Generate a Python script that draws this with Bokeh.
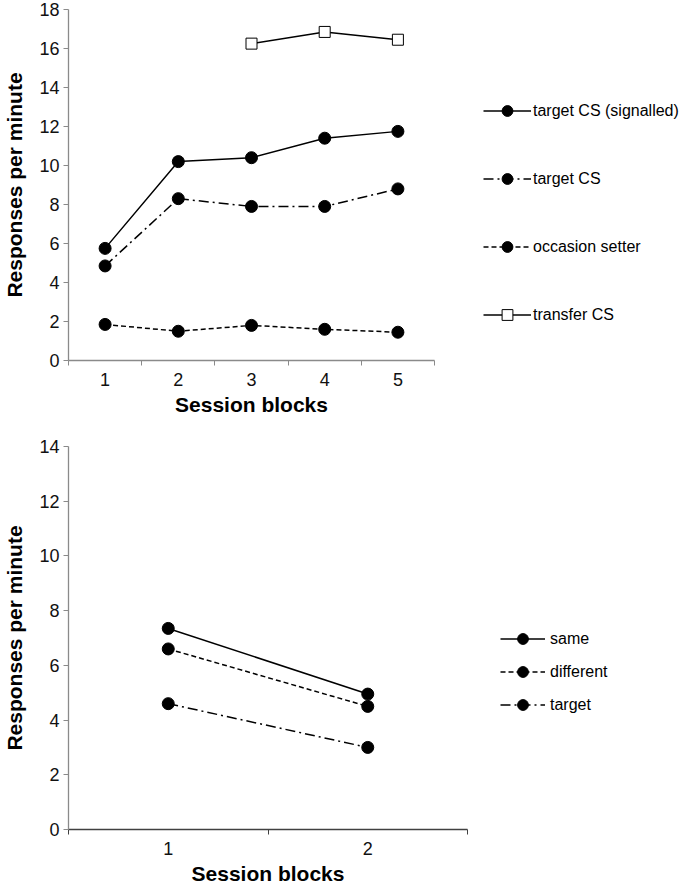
import math
from bokeh.plotting import figure
from bokeh.models import Legend, LegendItem, FixedTicker, Range1d
from bokeh.layouts import column
from bokeh.embed import file_html
from bokeh.resources import INLINE

# ---------------- data ----------------
top_blocks = [1, 2, 3, 4, 5]
target_cs_signalled = [5.75, 10.2, 10.4, 11.4, 11.75]
target_cs = [4.85, 8.3, 7.9, 7.9, 8.8]
occasion_setter = [1.85, 1.5, 1.8, 1.6, 1.45]
transfer_cs = [math.nan, math.nan, 16.25, 16.85, 16.45]
top_y_ticks = [0, 2, 4, 6, 8, 10, 12, 14, 16, 18]

bottom_blocks = [1, 2]
same = [7.35, 4.95]
different = [6.6, 4.5]
target = [4.6, 3.0]
bottom_y_ticks = [0, 2, 4, 6, 8, 10, 12, 14]

x_label = "Session blocks"
y_label = "Responses per minute"

FONT = "Liberation Sans"
GRAY = "#8a8a8a"


def style_axes(p, blocks, yticks, xaxis_color):
    p.xgrid.visible = False
    p.ygrid.visible = False
    p.outline_line_color = None
    p.background_fill_color = "white"
    p.border_fill_color = "white"
    bounds = [b - 0.5 for b in blocks] + [blocks[-1] + 0.5]
    xa = p.xaxis[0]
    xa.ticker = FixedTicker(ticks=blocks, minor_ticks=bounds)
    xa.major_tick_line_color = None
    xa.major_tick_out = 5
    xa.major_tick_in = 0
    xa.minor_tick_line_color = xaxis_color
    xa.minor_tick_out = 5
    xa.minor_tick_in = 0
    xa.axis_line_color = xaxis_color
    xa.axis_line_width = 1.3
    xa.major_label_text_font = FONT
    xa.major_label_text_font_size = "18px"
    xa.major_label_text_color = "#111111"
    xa.major_label_standoff = 7
    xa.axis_label = x_label
    xa.axis_label_text_font = FONT
    xa.axis_label_text_font_size = "21px"
    xa.axis_label_text_font_style = "bold"
    xa.axis_label_text_color = "black"
    xa.axis_label_standoff = 4
    ya = p.yaxis[0]
    ya.ticker = FixedTicker(ticks=yticks)
    ya.axis_line_color = GRAY
    ya.axis_line_width = 1.3
    ya.major_tick_line_color = GRAY
    ya.major_tick_out = 5
    ya.major_tick_in = 0
    ya.minor_tick_line_color = None
    ya.major_label_text_font = FONT
    ya.major_label_text_font_size = "18px"
    ya.major_label_text_color = "#111111"
    ya.major_label_standoff = 4
    ya.axis_label = y_label
    ya.axis_label_text_font = FONT
    ya.axis_label_text_font_size = "21px"
    ya.axis_label_text_font_style = "bold"
    ya.axis_label_text_color = "black"
    ya.axis_label_standoff = 10


def series(p, xs, ys, dash, marker="circle", fill="black", size=12):
    ln = p.line(xs, ys, line_color="black", line_width=1.5, line_dash=dash)
    sc = p.scatter(xs, ys, marker=marker, size=size, fill_color=fill,
                   line_color="black", line_width=1)
    return [ln, sc]


def make_legend(items, loc, glyph_width, spacing, standoff):
    lg = Legend(items=items, location=loc, orientation="vertical")
    lg.border_line_color = None
    lg.background_fill_alpha = 0
    lg.padding = 0
    lg.margin = 0
    lg.glyph_width = glyph_width
    lg.glyph_height = 27
    lg.label_height = 27
    lg.spacing = spacing
    lg.label_standoff = standoff
    lg.label_text_font = FONT
    lg.label_text_font_size = "16px"
    lg.label_text_color = "black"
    return lg


# ---------------- top chart ----------------
p1 = figure(frame_width=366, frame_height=351, output_backend="svg",
            toolbar_location=None, x_range=Range1d(0.5, 5.5),
            y_range=Range1d(0, 18), min_border_left=67, min_border_right=10,
            min_border_top=9, min_border_bottom=0)
style_axes(p1, top_blocks, top_y_ticks, GRAY)
r_sig = series(p1, top_blocks, target_cs_signalled, "solid")
r_tcs = series(p1, top_blocks, target_cs, "10 4 2 4")
r_occ = series(p1, top_blocks, occasion_setter, "5 3")
r_tr = series(p1, top_blocks, transfer_cs, "solid", marker="square", fill="white", size=11)
lg1 = make_legend([
    LegendItem(label="target CS (signalled)", renderers=r_sig),
    LegendItem(label="target CS", renderers=r_tcs),
    LegendItem(label="occasion setter", renderers=r_occ),
    LegendItem(label="transfer CS", renderers=r_tr),
], (49, 32), 48, 41, 2)
p1.add_layout(lg1, "right")
p1.min_border_right = 250

# ---------------- bottom chart ----------------
p2 = figure(frame_width=399, frame_height=383, output_backend="svg",
            toolbar_location=None, x_range=Range1d(0.5, 2.5),
            y_range=Range1d(0, 14), min_border_left=68, min_border_right=10,
            min_border_top=28, min_border_bottom=0)
style_axes(p2, bottom_blocks, bottom_y_ticks, "#404040")
r_same = series(p2, bottom_blocks, same, "solid")
r_diff = series(p2, bottom_blocks, different, "5 3")
r_targ = series(p2, bottom_blocks, target, "10 4 2 4")
lg2 = make_legend([
    LegendItem(label="same", renderers=r_same),
    LegendItem(label="different", renderers=r_diff),
    LegendItem(label="target", renderers=r_targ),
], (33, 111), 45, 6, 5)
p2.add_layout(lg2, "right")
p2.min_border_right = 200

layout = column(p1, p2, spacing=0)
open("out.html", "w").write(file_html(layout, INLINE))
